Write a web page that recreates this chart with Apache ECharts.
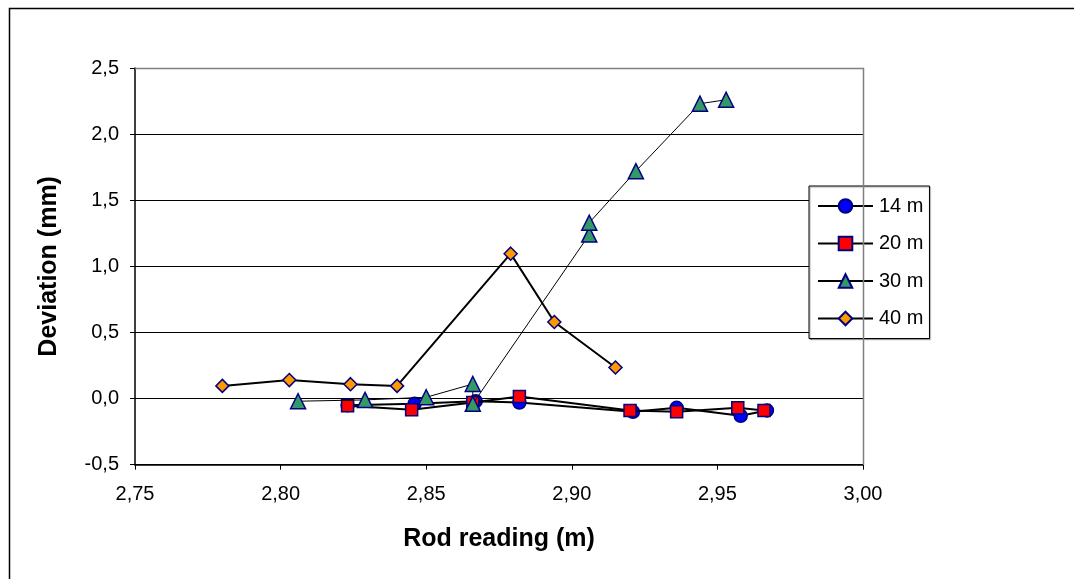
<!DOCTYPE html>
<html>
<head>
<meta charset="utf-8">
<script src="https://cdn.jsdelivr.net/npm/echarts@6/dist/echarts.min.js"></script>
<style>html,body{margin:0;padding:0;background:#fff}#c{width:1074px;height:579px}</style>
</head>
<body>
<div id="c"></div>
<script>
const seriesNames = ['14 m', '20 m', '30 m', '40 m'];
const x14 = [2.823, 2.846, 2.867, 2.882, 2.921, 2.936, 2.958, 2.967];
const y14 = [-0.05, -0.04, -0.02, -0.03, -0.10, -0.07, -0.13, -0.09];
const x20 = [2.823, 2.845, 2.866, 2.882, 2.920, 2.936, 2.957, 2.966];
const y20 = [-0.055, -0.085, -0.03, 0.015, -0.09, -0.10, -0.07, -0.09];
const x30 = [2.806, 2.829, 2.850, 2.866, 2.866, 2.906, 2.906, 2.922, 2.944, 2.953];
const y30 = [-0.02, -0.01, 0.01, 0.11, -0.04, 1.24, 1.33, 1.72, 2.23, 2.26];
const x40 = [2.780, 2.803, 2.824, 2.840, 2.879, 2.894, 2.915];
const y40 = [0.096, 0.14, 0.109, 0.096, 1.096, 0.579, 0.235];
const xTicks = [2.75, 2.80, 2.85, 2.90, 2.95, 3.00];
const yTicks = [-0.5, 0.0, 0.5, 1.0, 1.5, 2.0, 2.5];

const pairs = (xs, ys) => xs.map((x, i) => [x, ys[i]]);
const font = 'Liberation Sans, Arial, sans-serif';
const navy = '#000080';

const styles = [
  {symbol: 'circle', size: 13, color: '#0000FF', lw: 2},
  {symbol: 'rect', size: 12, color: '#FF0000', lw: 2},
  {symbol: 'triangle', size: 15, color: '#339966', lw: 1},
  {symbol: 'diamond', size: 13, color: '#FF9900', lw: 2}
];
const data = [pairs(x14, y14), pairs(x20, y20), pairs(x30, y30), pairs(x40, y40)];

const G = {left: 135, top: 68, width: 728, height: 396.7};

const chart = echarts.init(document.getElementById('c'), null, {renderer: 'canvas'});
chart.setOption({
  animation: false,
  backgroundColor: '#fff',
  graphic: [{
    type: 'rect', left: 7, top: 6, shape: {width: 1200, height: 700},
    style: {fill: 'none', stroke: '#000', lineWidth: 1.5}, silent: true, z: -10
  }, {
    type: 'polyline', silent: true, z: 10,
    shape: {points: [[G.left, G.top + 0.5], [G.left + G.width + 0.5, G.top + 0.5], [G.left + G.width + 0.5, G.top + G.height]]},
    style: {fill: 'none', stroke: '#808080', lineWidth: 1.5}
  }],
  grid: Object.assign({show: false}, G),
  xAxis: {
    type: 'value', min: 2.75, max: 3.00, interval: 0.05,
    name: 'Rod reading (m)', nameLocation: 'middle', nameGap: 62,
    nameTextStyle: {fontFamily: font, fontSize: 25, fontWeight: 'bold', color: '#000'},
    axisLine: {show: true, onZero: false, lineStyle: {color: '#000', width: 1.5}},
    axisTick: {show: true, inside: false, length: 5, lineStyle: {color: '#000'}},
    axisLabel: {fontFamily: font, fontSize: 20, color: '#000', margin: 20,
      formatter: v => v.toFixed(2).replace('.', ',')},
    splitLine: {show: false}
  },
  yAxis: {
    type: 'value', min: -0.5, max: 2.5, interval: 0.5,
    name: 'Deviation (mm)', nameLocation: 'middle', nameGap: 73, nameRotate: 90,
    nameTextStyle: {fontFamily: font, fontSize: 25, fontWeight: 'bold', color: '#000'},
    axisLine: {show: true, onZero: false, lineStyle: {color: '#000', width: 1.5}},
    axisTick: {show: true, inside: false, length: 5, lineStyle: {color: '#000'}},
    axisLabel: {fontFamily: font, fontSize: 20, color: '#000', margin: 16,
      formatter: v => v.toFixed(1).replace('.', ',')},
    splitLine: {show: true, lineStyle: {color: '#000', width: 1}}
  },
  legend: {
    orient: 'vertical', left: 809, top: 186,
    padding: [10, 6, 10, 8], itemGap: 17.5,
    itemWidth: 55, itemHeight: 17,
    borderColor: '#000', borderWidth: 1, backgroundColor: '#fff',
    shadowColor: 'rgba(0,0,0,0.35)', shadowOffsetX: 1, shadowOffsetY: 1, shadowBlur: 1,
    textStyle: {fontFamily: font, fontSize: 20, color: '#000', padding: [0, 0, 0, 1]},
    data: seriesNames
  },
  series: seriesNames.map((n, i) => ({
    name: n, type: 'line', data: data[i],
    symbol: styles[i].symbol, symbolSize: styles[i].size,
    showAllSymbol: true,
    lineStyle: {color: '#000', width: styles[i].lw},
    itemStyle: {color: styles[i].color, borderColor: navy, borderWidth: 1.5},
    z: 2 + i
  }))
});
</script>
</body>
</html>
